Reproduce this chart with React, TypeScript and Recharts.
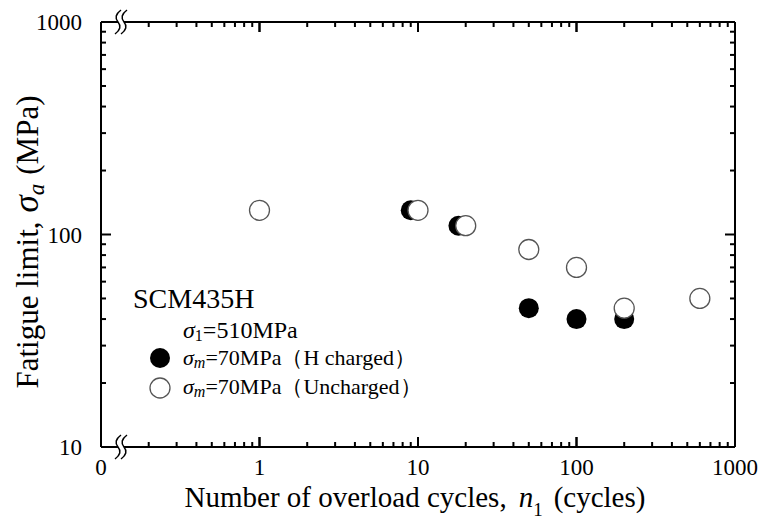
import React from "react";
import { ScatterChart, Scatter, XAxis, YAxis, Legend, Label } from "recharts";

// fatigue limit vs number of overload cycles
const hChargedCycles = [9, 18, 50, 100, 200];
const hChargedLimit = [130, 110, 45, 40, 40];
const unchargedCycles = [1, 10, 20, 50, 100, 200, 600];
const unchargedLimit = [130, 130, 110, 85, 70, 45, 50];

const seriesNames = ["σm=70MPa（H charged）", "σm=70MPa（Uncharged）"];

const xMajorTicks = [0.1, 1, 10, 100, 1000];
const xMajorLabels = ["0", "1", "10", "100", "1000"];
const yMajorTicks = [10, 100, 1000];
const yMajorLabels = ["10", "100", "1000"];
const minorMults = [2, 3, 4, 5, 6, 7, 8, 9];

const xMinorTicks = [0.1, 1, 10, 100].flatMap((d) => minorMults.map((m) => m * d));
const yTicks = [
  ...yMajorTicks,
  ...[10, 100].flatMap((d) => minorMults.map((m) => m * d)),
];

const hData = hChargedCycles.map((x, i) => ({ x, y: hChargedLimit[i] }));
const uData = unchargedCycles.map((x, i) => ({ x, y: unchargedLimit[i] }));

// x tick marks placed on the bottom (y=10) and top (y=1000) frame edges
const innerMajor = xMajorTicks.slice(1, -1);
const bottomMajorMarks = innerMajor.map((x) => ({ x, y: 10 }));
const bottomMinorMarks = xMinorTicks.map((x) => ({ x, y: 10 }));
const topMajorMarks = innerMajor.map((x) => ({ x, y: 1000 }));
const topMinorMarks = xMinorTicks.map((x) => ({ x, y: 1000 }));

const FONT = "'Liberation Serif', 'Times New Roman', serif";
const MAJOR = 10;
const MINOR = 5;
const BLACK_LINE = { stroke: "#000", strokeWidth: 2 };

const AxisBreak = ({ x, y }: { x: number; y: number }) => (
  <g>
    <rect x={x - 2} y={y - 2} width={6} height={4} fill="#fff" />
    {[x - 2, x + 4].map((cx) => (
      <path
        key={cx}
        d={`M${cx + 3},${y - 12} Q${cx - 5},${y - 6} ${cx},${y} T${cx - 3},${y + 12}`}
        fill="none"
        stroke="#000"
        strokeWidth={1.5}
      />
    ))}
  </g>
);

// mirrored axes: the tick props sit at the inner end of the tick line
const BottomLabel = (props: any) => {
  const { x, y, payload } = props;
  const i = xMajorTicks.indexOf(payload.value);
  const base = Number(y) + MAJOR;
  return (
    <g>
      <text x={x} y={base + 28} textAnchor="middle" fontSize={23} fontFamily={FONT} fill="#000">
        {xMajorLabels[i]}
      </text>
      {payload.value === 0.1 && <AxisBreak x={Number(x) + 19} y={base} />}
    </g>
  );
};

const TopBreak = (props: any) => {
  const { x, y, payload } = props;
  return payload.value === 0.1 ? <AxisBreak x={Number(x) + 19} y={Number(y) - MAJOR} /> : <g />;
};

const LeftTick = (props: any) => {
  const { x, y, payload } = props;
  const v = payload.value;
  const i = yMajorTicks.indexOf(v);
  const edge = v === 10 || v === 1000;
  return (
    <g>
      {!edge && (
        <line x1={x} y1={y} x2={x + (i >= 0 ? MAJOR : MINOR)} y2={y} stroke="#000" strokeWidth={2} />
      )}
      {i >= 0 && (
        <text x={x - 19} y={y + 8} textAnchor="end" fontSize={23} fontFamily={FONT} fill="#000">
          {yMajorLabels[i]}
        </text>
      )}
    </g>
  );
};

const RightTick = (props: any) => {
  const { x, y, payload } = props;
  const v = payload.value;
  const major = yMajorTicks.includes(v);
  const edge = v === 10 || v === 1000;
  if (edge) return <g />;
  return <line x1={x} y1={y} x2={x - (major ? MAJOR : MINOR)} y2={y} stroke="#000" strokeWidth={2} />;
};

const FilledDot = (props: any) => <circle cx={props.cx} cy={props.cy} r={10} fill="#000" />;
const OpenDot = (props: any) => (
  <circle cx={props.cx} cy={props.cy} r={10} fill="#fff" stroke="#555" strokeWidth={1.3} />
);
const NoDot = () => <g />;

const tickMark = (len: number, up: boolean) => (props: any) => {
  const cx = Number(props.cx);
  const cy = Number(props.cy);
  return <rect x={cx - 1} y={up ? cy - len : cy} width={2} height={len} fill="#000" />;
};
const BottomMajorMark = tickMark(MAJOR, true);
const BottomMinorMark = tickMark(MINOR, true);
const TopMajorMark = tickMark(MAJOR, false);
const TopMinorMark = tickMark(MINOR, false);

const SeriesText = ({ x, y, label }: { x: number; y: number; label: string }) => (
  <text x={x} y={y} fontSize={22} fontFamily={FONT} fill="#000">
    <tspan fontStyle="italic">σ</tspan>
    <tspan fontStyle="italic" fontSize={16} dy={3}>m</tspan>
    <tspan dy={-3}>{label.replace("σm", "")}</tspan>
  </text>
);

const LegendBox = () => (
  <svg width={340} height={140} style={{ display: "block" }}>
    <text x={13} y={38} fontSize={28} fontFamily={FONT} fill="#000">SCM435H</text>
    <text x={63} y={68} fontSize={24} fontFamily={FONT} fill="#000">
      <tspan fontStyle="italic">σ</tspan>
      <tspan fontSize={16} dy={3}>1</tspan>
      <tspan dy={-3}>=510MPa</tspan>
    </text>
    <circle cx={40} cy={88} r={10} fill="#000" />
    <SeriesText x={63} y={95} label={seriesNames[0]} />
    <circle cx={40} cy={118} r={10} fill="#fff" stroke="#555" strokeWidth={1.3} />
    <SeriesText x={63} y={124} label={seriesNames[1]} />
  </svg>
);

const xAxisBase = {
  dataKey: "x",
  type: "number" as const,
  scale: "log" as const,
  domain: [0.1, 1000],
  allowDataOverflow: true,
  interval: 0,
  height: 1,
  mirror: true,
  tickMargin: 0,
};

export default function App() {
  return (
    <div style={{ position: "absolute", left: 0, top: 0, background: "#fff" }}>
      <ScatterChart
        width={763}
        height={521}
        margin={{ top: 22, right: 27, bottom: 74, left: 100 }}
        style={{ fontFamily: FONT }}
      >
        <XAxis
          {...xAxisBase}
          xAxisId="bottom"
          orientation="bottom"
          ticks={xMajorTicks}
          tickSize={MAJOR}
          tickLine={BLACK_LINE}
          tick={<BottomLabel />}
          axisLine={BLACK_LINE}
        >
          <Label
            content={() => (
              <text x={415} y={507} textAnchor="middle" fontSize={29} fontFamily={FONT} fill="#000">
                <tspan>Number of overload cycles,</tspan>
                <tspan dx={12} fontStyle="italic">n</tspan>
                <tspan fontSize={19} dy={9}>1</tspan>
                <tspan dx={11} dy={-9}>(cycles)</tspan>
              </text>
            )}
          />
        </XAxis>
        <XAxis
          {...xAxisBase}
          xAxisId="top"
          orientation="top"
          ticks={xMajorTicks}
          tickSize={MAJOR}
          tickLine={BLACK_LINE}
          tick={<TopBreak />}
          axisLine={BLACK_LINE}
        />
        <YAxis
          yAxisId="left"
          dataKey="y"
          type="number"
          scale="log"
          domain={[10, 1000]}
          allowDataOverflow
          ticks={yTicks}
          interval={0}
          width={1}
          tickSize={0}
          tickMargin={0}
          tick={<LeftTick />}
          tickLine={false}
          axisLine={BLACK_LINE}
        >
          <Label
            content={() => (
              <text
                x={38}
                y={242}
                transform="rotate(-90 38 242)"
                textAnchor="middle"
                fontSize={31}
                fontFamily={FONT}
                fill="#000"
              >
                <tspan>Fatigue limit,</tspan>
                <tspan dx={9} fontStyle="italic" fontSize={35}>σ</tspan>
                <tspan fontStyle="italic" fontSize={23} dy={6}>a</tspan>
                <tspan dx={9} dy={-6}>(MPa)</tspan>
              </text>
            )}
          />
        </YAxis>
        <YAxis
          yAxisId="right"
          dataKey="y"
          orientation="right"
          type="number"
          scale="log"
          domain={[10, 1000]}
          allowDataOverflow
          ticks={yTicks}
          interval={0}
          width={1}
          tickSize={0}
          tickMargin={0}
          tick={<RightTick />}
          tickLine={false}
          axisLine={BLACK_LINE}
        />
        <Legend
          layout="vertical"
          align="center"
          verticalAlign="middle"
          content={() => <LegendBox />}
          wrapperStyle={{ left: 120, top: 270, width: 340, height: 140 }}
        />
        {/* binds the top frame axis; draws nothing */}
        <Scatter
          data={uData}
          xAxisId="top"
          yAxisId="right"
          legendType="none"
          shape={<NoDot />}
          isAnimationActive={false}
        />
        {/* x tick marks on the frame, placed through the chart's own scales */}
        <Scatter data={bottomMajorMarks} xAxisId="bottom" yAxisId="left" legendType="none" shape={<BottomMajorMark />} isAnimationActive={false} />
        <Scatter data={bottomMinorMarks} xAxisId="bottom" yAxisId="left" legendType="none" shape={<BottomMinorMark />} isAnimationActive={false} />
        <Scatter data={topMajorMarks} xAxisId="bottom" yAxisId="left" legendType="none" shape={<TopMajorMark />} isAnimationActive={false} />
        <Scatter data={topMinorMarks} xAxisId="bottom" yAxisId="left" legendType="none" shape={<TopMinorMark />} isAnimationActive={false} />
        <Scatter
          name={seriesNames[0]}
          data={hData}
          xAxisId="bottom"
          yAxisId="left"
          fill="#000"
          shape={<FilledDot />}
          isAnimationActive={false}
        />
        <Scatter
          name={seriesNames[1]}
          data={uData}
          xAxisId="bottom"
          yAxisId="left"
          fill="#fff"
          shape={<OpenDot />}
          isAnimationActive={false}
        />
      </ScatterChart>
    </div>
  );
}
